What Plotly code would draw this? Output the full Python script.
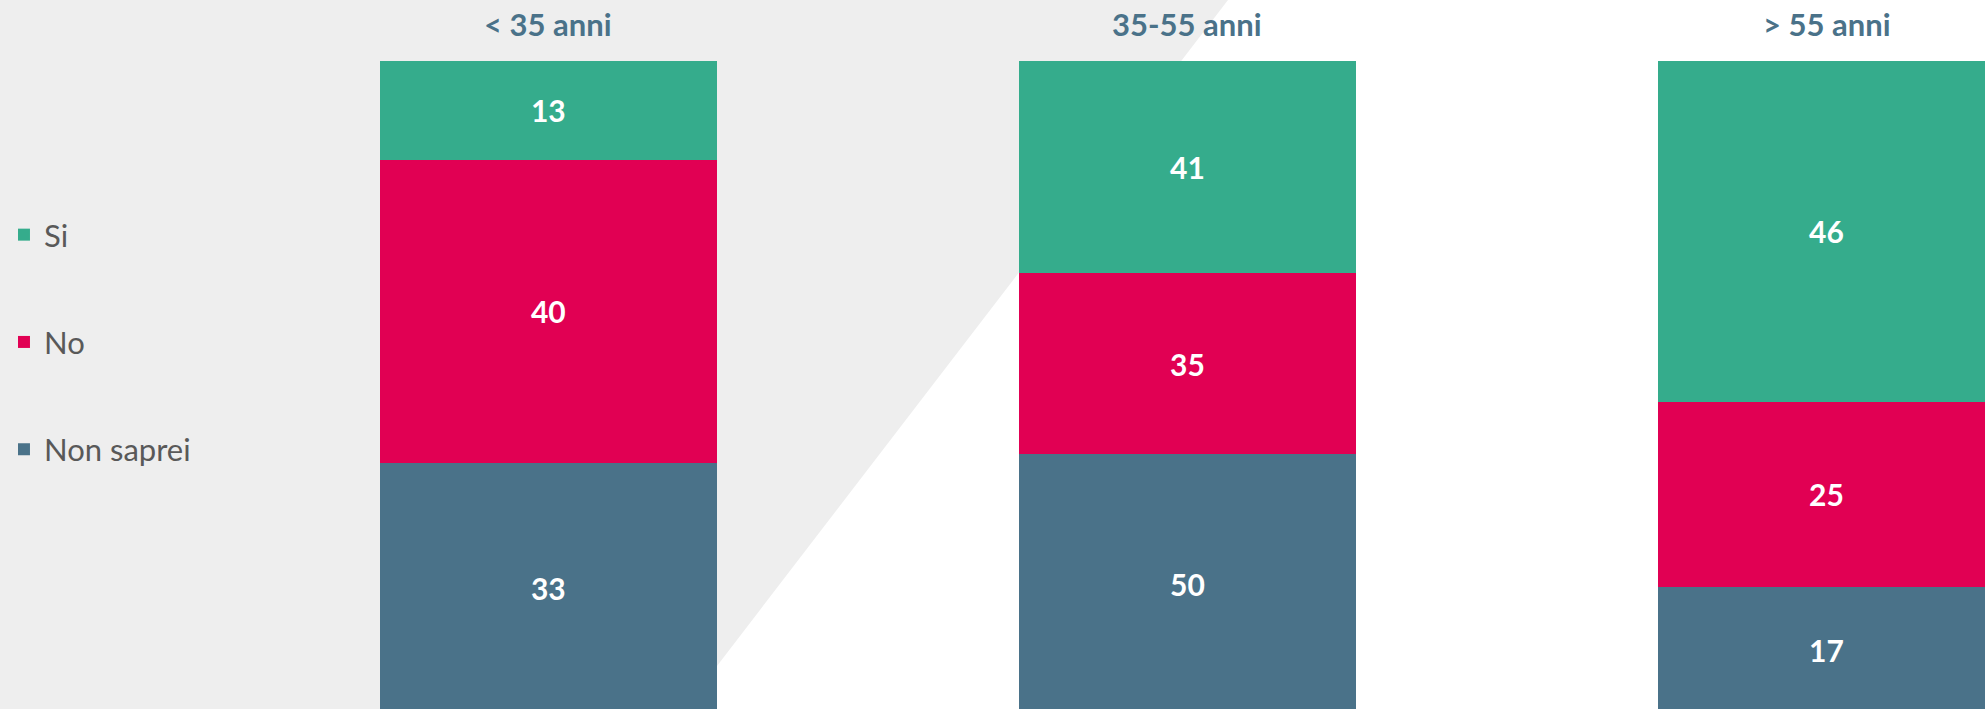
import plotly.graph_objects as go

# age groups and answers (values as printed on the bars)
groups = ["< 35 anni", "35-55 anni", "> 55 anni"]
si = [13, 41, 46]
no = [40, 35, 25]
non_saprei = [33, 50, 17]

COL_SI = "#35ac8c"
COL_NO = "#e10053"
COL_NS = "#4a7289"
TITLE_COL = "#4a7289"

W, H = 1985, 709
TOP = 61

fig = go.Figure()
# bottom to top: Non saprei, No, Si
for i, (name, vals, col) in enumerate([
    ("Non saprei", non_saprei, COL_NS),
    ("No", no, COL_NO),
    ("Si", si, COL_SI),
]):
    fig.add_trace(go.Bar(
        name=name,
        x=list(range(len(groups))),
        y=vals,
        text=vals,
        texttemplate="<b>%{text}</b>",
        textposition="inside",
        insidetextanchor="middle",
        textangle=0,
        textfont=dict(family="Lato", size=30, color="white"),
        marker=dict(color=col, line=dict(width=0)),
        width=0.527,
        legendgroup=name,
        legendrank=3 - i,
        hoverinfo="skip",
    ))

# column titles
for i, g in enumerate(groups):
    fig.add_annotation(
        x=i, y=(H - 24) / (H - TOP), xref="x", yref="paper",
        text="<b>%s</b>" % g, showarrow=False,
        xanchor="center", yanchor="middle",
        font=dict(family="Lato", size=31, color=TITLE_COL),
    )

# grey diagonal background panel
x_top, x_bot = 1228 / W, 684 / W
y_top = H / (H - TOP)
fig.add_shape(
    type="path", xref="paper", yref="paper", layer="below",
    path=f"M 0,{y_top} L {x_top},{y_top} L {x_bot},0 L 0,0 Z",
    fillcolor="#eeeeee", line=dict(width=0),
)

fig.update_layout(
    width=W, height=H,
    barmode="stack",
    barnorm="percent",
    margin=dict(l=0, r=0, t=TOP, b=0),
    plot_bgcolor="white",
    paper_bgcolor="white",
    showlegend=True,
    legend=dict(
        x=0.002, y=(H - 208) / (H - TOP), xanchor="left", yanchor="top",
        bgcolor="rgba(0,0,0,0)",
        font=dict(family="Lato", size=31, color="#595959"),
        tracegroupgap=64,
        itemwidth=30,
    ),
    xaxis=dict(range=[-0.858, 2.248], visible=False),
    yaxis=dict(range=[0.6, 100], visible=False),
)

fig.write_html(
    "out.html",
    config={"displayModeBar": False},
    post_script="document.body.style.margin='0';",
)
